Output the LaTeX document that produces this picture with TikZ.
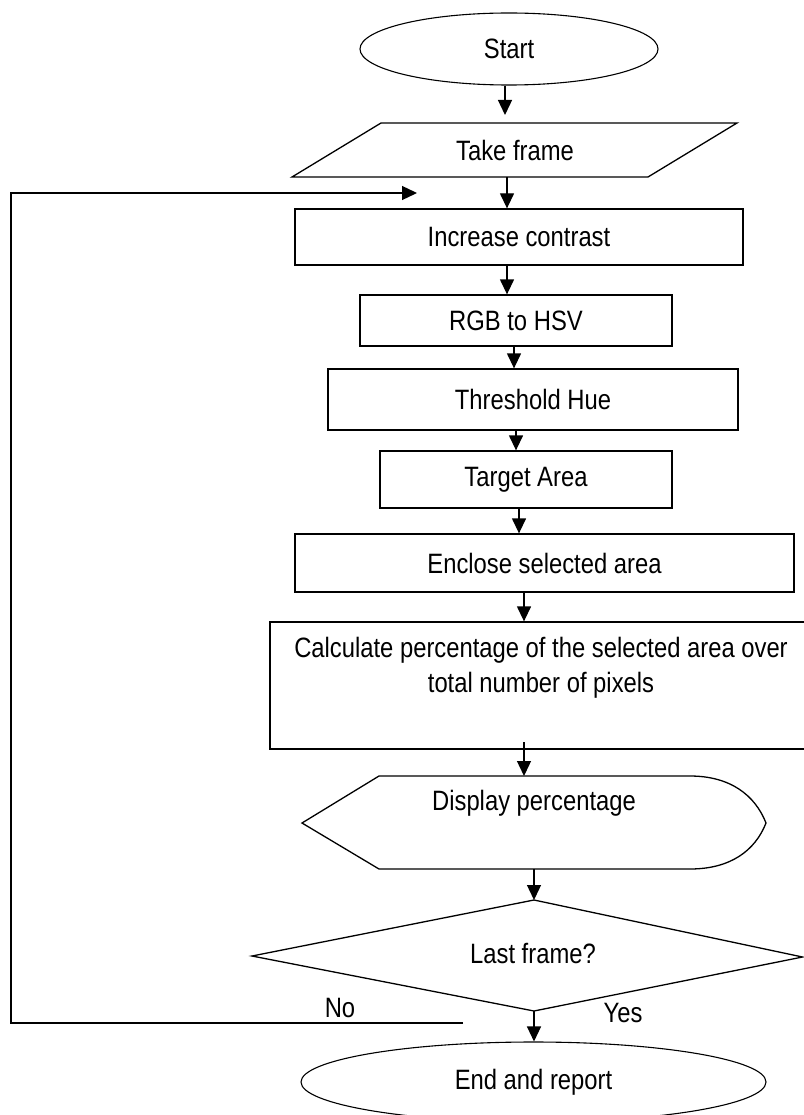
\documentclass[tikz,border=0pt]{standalone}
\usepackage{fontspec}
\setmainfont{Liberation Sans}[FakeStretch=0.85]
\usetikzlibrary{shapes.geometric,arrows.meta,calc}
\begin{document}
\begin{tikzpicture}[x=1pt,y=-1pt,
  every node/.style={font=\fontsize{28}{35}\selectfont},
  ln/.style={line width=1.3pt, line join=miter},
  arr/.style={ln, -{Triangle[length=15pt,width=14pt]}},
  boxnode/.style={draw, line width=1.3pt, rectangle, inner sep=0pt},
  termnode/.style={draw, line width=1.1pt, ellipse, inner sep=0pt},
  txt/.style={inner sep=0pt, align=center}]
\useasboundingbox (0,0) rectangle (803,1115);

% nodes
\node[termnode, minimum width=298pt, minimum height=72pt] (start) at (509,49) {Start};

\draw[ln] (381,123) -- (737,123) -- (648,177) -- (292,177) -- cycle;
\node[txt] (take) at (515,150) {Take frame};
\coordinate (takeT) at (505,115);
\coordinate (takeB) at (507,177);

\node[boxnode, minimum width=448pt, minimum height=56pt] (inc) at (519,237) {Increase contrast};
\node[boxnode, minimum width=312pt, minimum height=51pt] (rgb) at (516,320.5) {RGB to HSV};
\node[boxnode, minimum width=410pt, minimum height=61pt] (thr) at (533,399.5) {Threshold Hue};
\node[boxnode, minimum width=292pt, minimum height=57pt] (tgt) at (526,479.5) {Target Area};
\node[boxnode, minimum width=499pt, minimum height=58pt] (enc) at (544.5,563) {Enclose selected area};
\node[boxnode, minimum width=545pt, minimum height=127pt] (calc) at (542.5,685.5) {};
\node[txt] (calctext) at (541,668) {Calculate percentage of the selected area over\\total number of pixels};

\draw[ln] (302,823) -- (379,776) -- (690,776)
  .. controls (730,776) and (755,795) .. (766,823)
  .. controls (755,851) and (730,869) .. (690,869)
  -- (379,869) -- cycle;
\node[txt] (disp) at (534,803) {Display percentage};
\coordinate (dispT) at (524,776);
\coordinate (dispB) at (534,869);

\draw[ln] (534,900) -- (802.5,957) -- (534,1011) -- (252,956) -- cycle;
\node[txt] (dec) at (533,953) {Last frame?};
\coordinate (decT) at (534,900);
\coordinate (decB) at (534,1011);

\node[termnode, minimum width=465pt, minimum height=80pt] (end) at (533.5,1082) {End and report};

\node[txt] (no) at (340,1008) {No};
\node[txt] (yes) at (623,1013) {Yes};

% connectors
\draw[arr] (start.south -| takeT) -- (takeT);
\draw[arr] (takeB) -- (takeB |- inc.north);
\draw[arr] (inc.south -| takeB) -- (takeB |- rgb.north);
\coordinate (a1) at (514,0);
\draw[arr] (a1 |- rgb.south) -- (a1 |- thr.north);
\coordinate (a2) at (516,0);
\draw[arr] (a2 |- thr.south) -- (a2 |- tgt.north);
\coordinate (a3) at (519,0);
\draw[arr] (a3 |- tgt.south) -- (a3 |- enc.north);
\coordinate (a4) at (524,0);
\draw[arr] (a4 |- enc.south) -- (a4 |- calc.north);
\coordinate (calcB) at (524,742);
\draw[arr] (calcB) -- (dispT);
\draw[arr] (dispB) -- (decT);
\draw[arr] (decB) -- (decB |- end.north);

% loop back
\coordinate (noEnd) at (463,1023);
\coordinate (loopBL) at (11,1023);
\coordinate (loopTL) at (11,193);
\coordinate (loopTip) at (417,193);
\draw[arr] (noEnd) -- (loopBL) -- (loopTL) -- (loopTip);
\end{tikzpicture}
\end{document}
